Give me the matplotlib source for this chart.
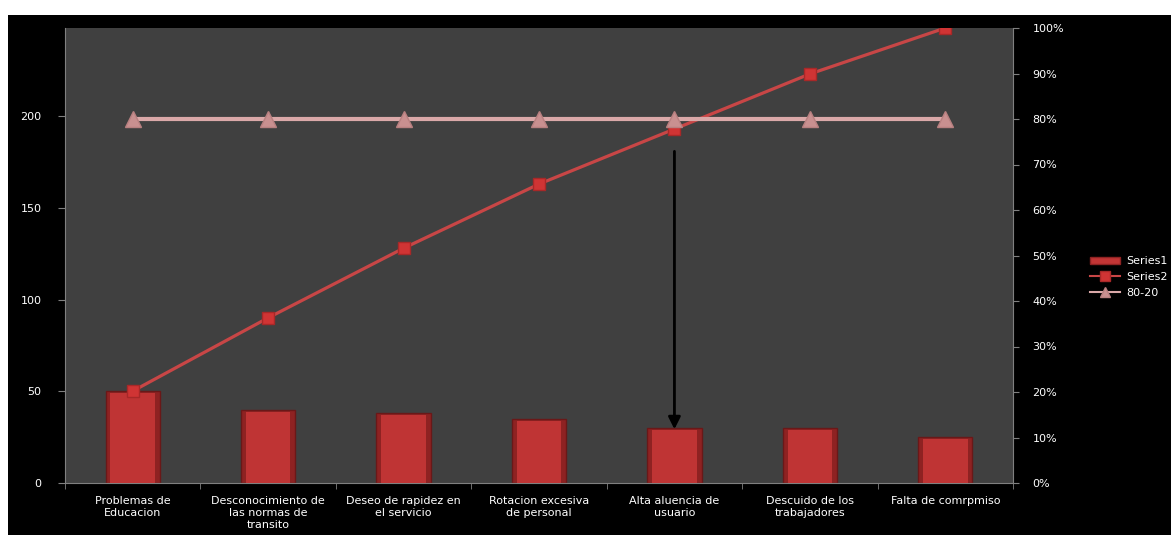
import matplotlib.pyplot as plt
from matplotlib.patches import Rectangle
from matplotlib.ticker import PercentFormatter
import numpy as np

categories = ["Problemas de\nEducacion", "Desconocimiento de\nlas normas de\ntransito",
              "Deseo de rapidez en\nel servicio", "Rotacion excesiva\nde personal",
              "Alta aluencia de\nusuario", "Descuido de los\ntrabajadores", "Falta de comrpmiso"]
series1 = [50, 40, 38, 35, 30, 30, 25]
series2 = [20.2, 36.3, 51.6, 65.7, 77.8, 89.9, 100.0]
line_80_20 = [80, 80, 80, 80, 80, 80, 80]

plt.rcParams['font.family'] = ['DejaVu Sans']
plt.rcParams['font.size'] = 8

fig = plt.figure(figsize=(11.71, 5.35), dpi=100, facecolor="white")
fig.patches.append(Rectangle((8 / 1171, 0), 1, 1 - 15 / 535, transform=fig.transFigure,
                             facecolor="black", edgecolor="none", zorder=-1))

ax = fig.add_axes([65 / 1171, 52 / 535, 948 / 1171, 455 / 535])
ax.set_facecolor("#404040")
x = np.arange(len(categories))

# bars, with a lighter core to hint at the gradient
ax.bar(x, series1, width=0.4, color="#8e2222", edgecolor="#6a1818", linewidth=1, zorder=2)
ax.bar(x, np.array(series1) - 1.2, width=0.33, color="#bf3434", edgecolor="none", zorder=3)
ax.set_xlim(-0.5, len(categories) - 0.5)
ax.set_ylim(0, sum(series1))
ax.set_yticks([0, 50, 100, 150, 200])
ax.set_xticks(x)
ax.set_xticklabels(categories, color="white", linespacing=1.3)
ax.set_xticks(np.arange(-0.5, len(categories)), minor=True)
ax.tick_params(axis="x", which="major", length=0, pad=9)
ax.tick_params(axis="x", which="minor", length=4, color="#808080")
ax.tick_params(axis="y", colors="white", length=5, pad=12)
ax.tick_params(axis="y", color="#808080")
for s in ax.spines.values():
    s.set_visible(False)
ax.spines["left"].set_visible(True)
ax.spines["bottom"].set_visible(True)
ax.spines["left"].set_color("#808080")
ax.spines["bottom"].set_color("#808080")

ax2 = ax.twinx()
ax2.set_ylim(0, 100)
ax2.set_yticks(np.arange(0, 101, 10))
ax2.yaxis.set_major_formatter(PercentFormatter(decimals=0))
ax2.tick_params(axis="y", colors="white", length=4, pad=10)
ax2.tick_params(axis="y", color="#808080")
for s in ax2.spines.values():
    s.set_visible(False)
ax2.spines["right"].set_visible(True)
ax2.spines["right"].set_color("#808080")

ax2.plot(x, series2, color="#c84646", linewidth=2.3, marker="s", markersize=9,
         markerfacecolor="#d03434", markeredgecolor="#a82828", zorder=3)
ax2.plot(x, line_80_20, color="#dba9a9", linewidth=3, marker="^", markersize=11,
         markerfacecolor="#c99090", markeredgecolor="#b88080", zorder=4)

ax2.annotate("", xy=(4, 11.2), xytext=(4, 73.5),
             arrowprops=dict(arrowstyle="-|>", color="black", lw=2, mutation_scale=18),
             zorder=5)

handles = [
    Rectangle((0, 0), 1, 1, facecolor="#c23535", edgecolor="#8e2222"),
    plt.Line2D([], [], color="#c84646", linewidth=1.5, marker="s", markersize=7,
               markerfacecolor="#d03434", markeredgecolor="#a82828"),
    plt.Line2D([], [], color="#dba9a9", linewidth=1.5, marker="^", markersize=7,
               markerfacecolor="#c99090", markeredgecolor="#b88080"),
]
leg = fig.legend(handles, ["Series1", "Series2", "80-20"], loc="center left",
                 bbox_to_anchor=(1086 / 1171, 1 - 277 / 535), frameon=False,
                 handlelength=2.7, handleheight=0.55, handletextpad=0.5,
                 labelspacing=0.5, borderaxespad=0, fontsize=8)
for t in leg.get_texts():
    t.set_color("white")

fig.savefig("out.png", dpi=100, facecolor=fig.get_facecolor())
